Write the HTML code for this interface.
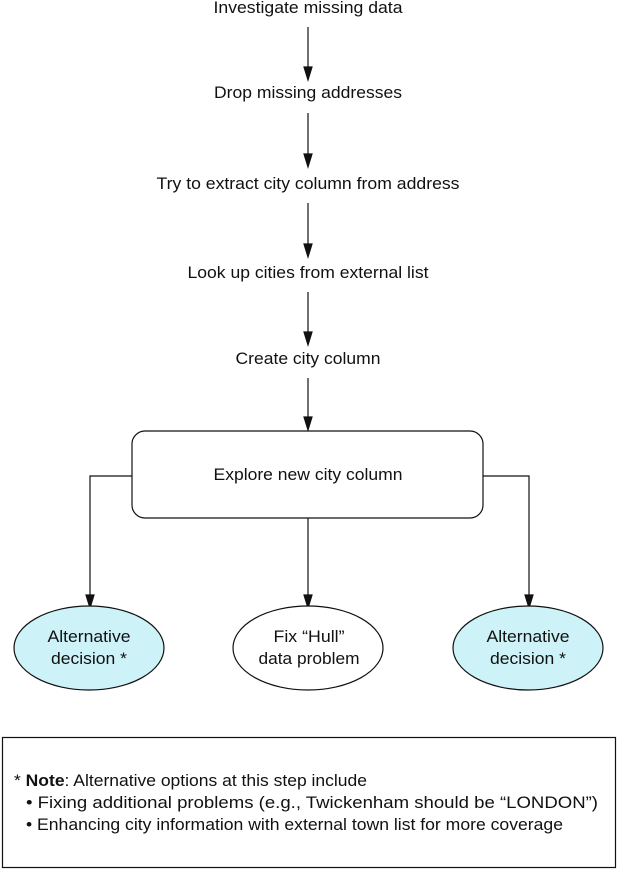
<!DOCTYPE html>
<html><head><style>
body{margin:0;background:#fff;}
svg text{font-family:"Liberation Sans",sans-serif;font-size:17px;fill:#111;}
</style></head><body>
<svg width="617" height="871" viewBox="0 0 617 871" xmlns="http://www.w3.org/2000/svg">
<g text-anchor="middle">
<text x="308" y="13" textLength="189" lengthAdjust="spacingAndGlyphs">Investigate missing data</text>
<text x="308" y="98" textLength="188" lengthAdjust="spacingAndGlyphs">Drop missing addresses</text>
<text x="308" y="189" textLength="303" lengthAdjust="spacingAndGlyphs">Try to extract city column from address</text>
<text x="308" y="278" textLength="241" lengthAdjust="spacingAndGlyphs">Look up cities from external list</text>
<text x="308" y="364" textLength="145" lengthAdjust="spacingAndGlyphs">Create city column</text>
</g>
<g stroke="#111" stroke-width="1.2" fill="none">
<line x1="308" y1="27" x2="308" y2="68"/><path d="M304,67 L312,67 L308,80 Z" fill="#111"/>
<line x1="308" y1="113" x2="308" y2="155"/><path d="M304,154 L312,154 L308,167 Z" fill="#111"/>
<line x1="308" y1="203" x2="308" y2="245"/><path d="M304,244 L312,244 L308,257 Z" fill="#111"/>
<line x1="308" y1="292" x2="308" y2="333"/><path d="M304,332 L312,332 L308,345 Z" fill="#111"/>
<line x1="308" y1="378" x2="308" y2="418"/><path d="M304,417 L312,417 L308,430 Z" fill="#111"/>
<rect x="132" y="431" width="351" height="87" rx="13" ry="13"/>
<path d="M132,476 L90,476 L90,596"/><path d="M86,595 L94,595 L90,608 Z" fill="#111"/>
<path d="M483,476 L529,476 L529,596"/><path d="M525,595 L533,595 L529,608 Z" fill="#111"/>
<line x1="308" y1="518" x2="308" y2="596"/><path d="M304,595 L312,595 L308,608 Z" fill="#111"/>
<ellipse cx="89" cy="648" rx="75" ry="42" fill="#cdf2f8"/>
<ellipse cx="308" cy="648" rx="75" ry="42" fill="#fff"/>
<ellipse cx="528" cy="648" rx="75" ry="42" fill="#cdf2f8"/>
<rect x="2.5" y="737.5" width="613" height="130"/>
</g>
<g text-anchor="middle">
<text x="308" y="480" textLength="189" lengthAdjust="spacingAndGlyphs">Explore new city column</text>
<text x="89" y="642" textLength="83" lengthAdjust="spacingAndGlyphs">Alternative</text><text x="89" y="664" textLength="76" lengthAdjust="spacingAndGlyphs">decision *</text>
<text x="309" y="642" textLength="71" lengthAdjust="spacingAndGlyphs">Fix “Hull”</text><text x="309" y="664" textLength="101" lengthAdjust="spacingAndGlyphs">data problem</text>
<text x="528" y="642" textLength="83" lengthAdjust="spacingAndGlyphs">Alternative</text><text x="528" y="664" textLength="76" lengthAdjust="spacingAndGlyphs">decision *</text>
</g>
<text x="14" y="786" textLength="353" lengthAdjust="spacingAndGlyphs">* <tspan font-weight="bold">Note</tspan>: Alternative options at this step include</text>
<text x="26" y="808" textLength="572" lengthAdjust="spacingAndGlyphs">• Fixing additional problems (e.g., Twickenham should be “LONDON”)</text>
<text x="26" y="830" textLength="537" lengthAdjust="spacingAndGlyphs">• Enhancing city information with external town list for more coverage</text>
</svg>
</body></html>
